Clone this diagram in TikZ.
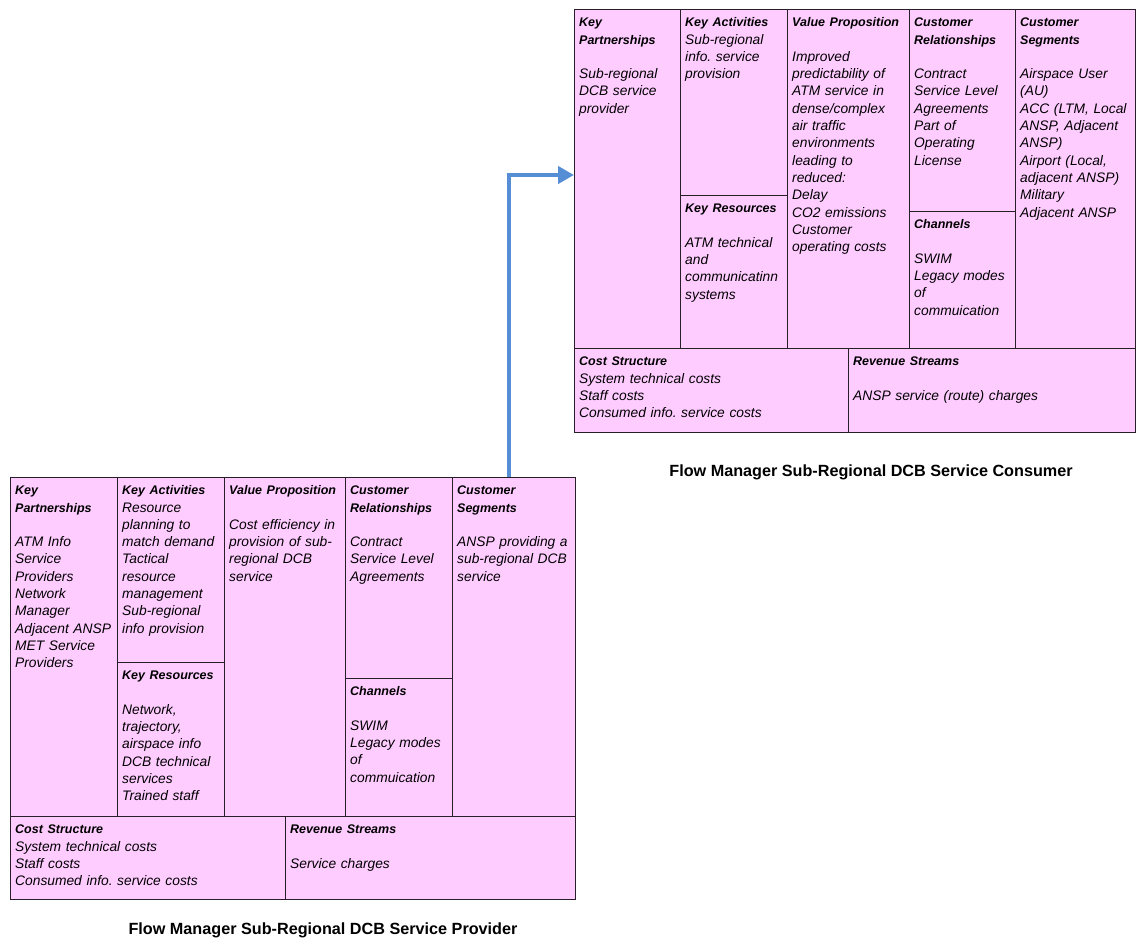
\documentclass[tikz,border=0pt]{standalone}
\usepackage{fontspec}
\setmainfont{Liberation Sans}
\usetikzlibrary{calc,arrows.meta}
\definecolor{cellpink}{RGB}{255,204,255}
\definecolor{flowblue}{RGB}{85,142,213}
\definecolor{gridline}{RGB}{40,30,40}
\newcommand\cellhead[1]{{\fontsize{12.5}{17.3}\selectfont\bfseries #1}}
\frenchspacing
\begin{document}
\begin{tikzpicture}[x=1pt,y=-1pt,
  canvas/.style={draw=gridline, line width=0.9pt, fill=cellpink, anchor=north west,
                 inner sep=0pt, outer sep=0pt},
  divider/.style={draw=gridline, line width=0.9pt},
  txt/.style={anchor=north west, inner sep=0pt, align=left, text width=#1,
              font=\fontsize{13.8}{17.3}\selectfont\itshape},
  txt/.default=110pt,
  caption/.style={font=\fontsize{16.2}{19}\selectfont\bfseries, inner sep=0pt},
  flow/.style={draw=flowblue, line width=4pt,
               -{Triangle[length=16pt,width=17pt]}}]
\useasboundingbox[fill=white] (0,0) rectangle (1136,940);

% ---------- consumer canvas ----------
\node[canvas, minimum width=561pt, minimum height=423pt] (cons) at (574,9) {};
\draw[divider] (680,9) -- (680,348) (787,9) -- (787,348)
               (909,9) -- (909,348) (1015,9) -- (1015,348)
               (574,348) -- (1135,348) (848,348) -- (848,432)
               (680,195) -- (787,195) (909,211) -- (1015,211);

\node[txt=100pt] (ckp) at (579,14.4) {\strut\cellhead{Key}\\\cellhead{Partnerships}\\~\\Sub-regional\\DCB service\\provider};
\node[txt=100pt] (cka) at (685,14.4) {\strut\cellhead{Key Activities}\\Sub-regional\\info. service\\provision};
\node[txt=100pt] (ckr) at (685,200.4) {\strut\cellhead{Key Resources}\\~\\ATM technical\\and\\communicatinn\\systems};
\node[txt=118pt] (cvp) at (792,14.4) {\strut\cellhead{Value Proposition}\\~\\Improved\\predictability of\\ATM service in\\dense/complex\\air traffic\\environments\\leading to\\reduced:\\Delay\\CO2 emissions\\Customer\\operating costs};
\node[txt=100pt] (ccr) at (914,14.4) {\strut\cellhead{Customer}\\\cellhead{Relationships}\\~\\Contract\\Service Level\\Agreements\\Part of\\Operating\\License};
\node[txt=100pt] (cch) at (914,216.4) {\strut\cellhead{Channels}\\~\\SWIM\\Legacy modes\\of\\commuication};
\node[txt=118pt] (ccs) at (1020,14.4) {\strut\cellhead{Customer}\\\cellhead{Segments}\\~\\Airspace User\\(AU)\\ACC (LTM, Local\\ANSP, Adjacent\\ANSP)\\Airport (Local,\\adjacent ANSP)\\Military\\Adjacent ANSP};
\node[txt=260pt] (ccost) at (579,353.4) {\strut\cellhead{Cost Structure}\\System technical costs\\Staff costs\\Consumed info. service costs};
\node[txt=270pt] (crev) at (853,353.4) {\strut\cellhead{Revenue Streams}\\~\\ANSP service (route) charges};

\node[caption] (ccap) at (871,472) {Flow Manager Sub-Regional DCB Service Consumer};

% ---------- provider canvas ----------
\node[canvas, minimum width=565pt, minimum height=422pt] (prov) at (10,477) {};
\draw[divider] (117,477) -- (117,816) (224,477) -- (224,816)
               (345,477) -- (345,816) (452,477) -- (452,816)
               (10,816) -- (575,816) (285,816) -- (285,899)
               (117,662) -- (224,662) (345,678) -- (452,678);

\node[txt=104pt] (pkp) at (15,482.4) {\strut\cellhead{Key}\\\cellhead{Partnerships}\\~\\ATM Info\\Service\\Providers\\Network\\Manager\\Adjacent ANSP\\MET Service\\Providers};
\node[txt=104pt] (pka) at (122,482.4) {\strut\cellhead{Key Activities}\\Resource\\planning to\\match demand\\Tactical\\resource\\management\\Sub-regional\\info provision};
\node[txt=104pt] (pkr) at (122,667.4) {\strut\cellhead{Key Resources}\\~\\Network,\\trajectory,\\airspace info\\DCB technical\\services\\Trained staff};
\node[txt=118pt] (pvp) at (229,482.4) {\strut\cellhead{Value Proposition}\\~\\Cost efficiency in\\provision of sub-\\regional DCB\\service};
\node[txt=104pt] (pcr) at (350,482.4) {\strut\cellhead{Customer}\\\cellhead{Relationships}\\~\\Contract\\Service Level\\Agreements};
\node[txt=104pt] (pch) at (350,683.4) {\strut\cellhead{Channels}\\~\\SWIM\\Legacy modes\\of\\commuication};
\node[txt=120pt] (pcs) at (457,482.4) {\strut\cellhead{Customer}\\\cellhead{Segments}\\~\\ANSP providing a\\sub-regional DCB\\service};
\node[txt=260pt] (pcost) at (15,821.4) {\strut\cellhead{Cost Structure}\\System technical costs\\Staff costs\\Consumed info. service costs};
\node[txt=280pt] (prev) at (290,821.4) {\strut\cellhead{Revenue Streams}\\~\\Service charges};

\node[caption] (pcap) at (323,930) {Flow Manager Sub-Regional DCB Service Provider};

% ---------- hand-over from provider to consumer ----------
\coordinate (handoff) at ($(prov.north west)+(499,0)$);
\draw[flow] (handoff) |- ($(cons.north west)+(0,166)$);
\end{tikzpicture}
\end{document}
